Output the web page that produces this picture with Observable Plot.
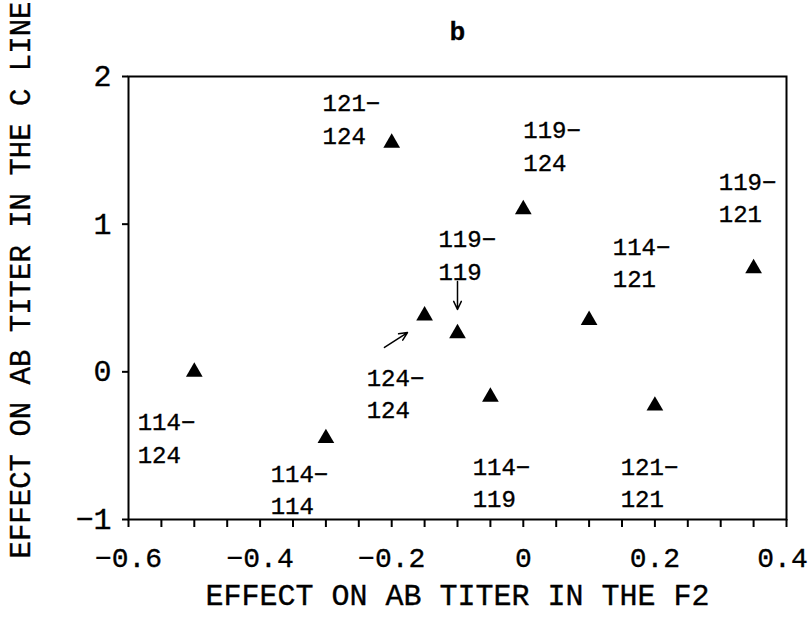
<!DOCTYPE html>
<html>
<head>
<meta charset="utf-8">
<script src="https://cdn.jsdelivr.net/npm/d3@7"></script>
<script src="https://cdn.jsdelivr.net/npm/@observablehq/plot@0.6"></script>
<style>
  html, body { margin: 0; padding: 0; background: white; }
  svg text { stroke: black; stroke-width: 0.35px; }
</style>
</head>
<body>
<div id="chart"></div>
<script>
// Data: effect of genotype pairs on antibody titer
const pairLabels = ["114−\n124", "114−\n114", "124−\n124", "121−\n124", "119−\n119",
                    "114−\n119", "119−\n124", "114−\n121", "121−\n121", "119−\n121"];
const effectF2    = [-0.50, -0.30, -0.15, -0.20, -0.10, -0.05, 0.00, 0.10, 0.20, 0.35];
const effectCLine = [0.00, -0.45, 0.38, 1.55, 0.26, -0.17, 1.10, 0.35, -0.23, 0.70];
// label anchor positions (data units)
const labelX = [-0.586, -0.384, -0.238, -0.305, -0.129, -0.077, 0.000, 0.136, 0.148, 0.297];
const labelY = [-0.434, -0.783, -0.133, 1.726, 0.805, -0.736, 1.543, 0.754, -0.736, 1.194];
// arrows (data units)
const arrowX1 = [-0.211, -0.100];
const arrowY1 = [0.165, 0.612];
const arrowX2 = [-0.176, -0.100];
const arrowY2 = [0.266, 0.422];

const xTicks = [-0.6, -0.4, -0.2, 0, 0.2];
const xLastTick = [0.4];
const xMinorTicks = d3.range(0, 21).map(i => -0.6 + i * 0.05);
const yTicks = [-1, 0, 1, 2];
const xTitle = "EFFECT ON AB TITER IN THE F2";
const yTitle = "EFFECT ON AB TITER IN THE C LINE";
const panelTitle = "b";

const points = effectF2.map((x, i) => ({x, y: effectCLine[i]}));
const labels = pairLabels.map((t, i) => ({t, x: labelX[i], y: labelY[i]}));
const arrows = arrowX1.map((x1, i) => ({x1, y1: arrowY1[i], x2: arrowX2[i], y2: arrowY2[i]}));

const fmtX = d => Math.abs(d) < 1e-9 ? "0" : d3.format(".1f")(d);
const fmtY = d => d3.format("d")(d);
const mono = "Liberation Mono";

const chart = Plot.plot({
  width: 810,
  height: 618,
  marginLeft: 128,
  marginRight: 24,
  marginTop: 76,
  marginBottom: 99,
  x: {domain: [-0.6, 0.4]},
  y: {domain: [-1, 2]},
  style: {fontFamily: mono, color: "black", background: "white", overflow: "visible"},
  marks: [
    Plot.frame({stroke: "black", strokeWidth: 2}),
    Plot.axisX({ticks: xMinorTicks, tickSize: 8, strokeWidth: 2, tickFormat: () => "", label: null}),
    Plot.axisX({ticks: xTicks, tickSize: 0, tickPadding: 28, fontSize: 28, tickFormat: fmtX, label: null}),
    Plot.axisX({ticks: xLastTick, tickSize: 0, tickPadding: 28, fontSize: 28, tickFormat: fmtX, label: null, dx: -4}),
    Plot.axisY({ticks: yTicks, tickSize: 6, strokeWidth: 2, tickPadding: 11, fontSize: 30, tickFormat: fmtY, label: null}),
    Plot.dot(points, {x: "x", y: "y", symbol: "triangle", r: 6.2, fill: "black", stroke: null}),
    Plot.text(labels, {x: "x", y: "y", text: "t", textAnchor: "start", lineAnchor: "middle",
                       fontSize: 24, lineHeight: 1.36, fill: "black"}),
    Plot.arrow(arrows, {x1: "x1", y1: "y1", x2: "x2", y2: "y2", stroke: "black",
                        strokeWidth: 1.5, headLength: 9, headAngle: 50}),
    Plot.text([panelTitle], {frameAnchor: "top", dy: -45, lineAnchor: "middle", fontFamily: "Liberation Sans",
                             fontWeight: "bold", fontSize: 25, fill: "black"}),
    Plot.text([xTitle], {frameAnchor: "bottom", dy: 76, lineAnchor: "middle", textAnchor: "middle",
                         fontSize: 30, fill: "black"}),
    Plot.text([yTitle], {frameAnchor: "left", dx: -108, dy: -18, rotate: -90, textAnchor: "middle",
                         lineAnchor: "middle", fontSize: 29, fill: "black"})
  ]
});
document.getElementById("chart").appendChild(chart);
</script>
</body>
</html>
